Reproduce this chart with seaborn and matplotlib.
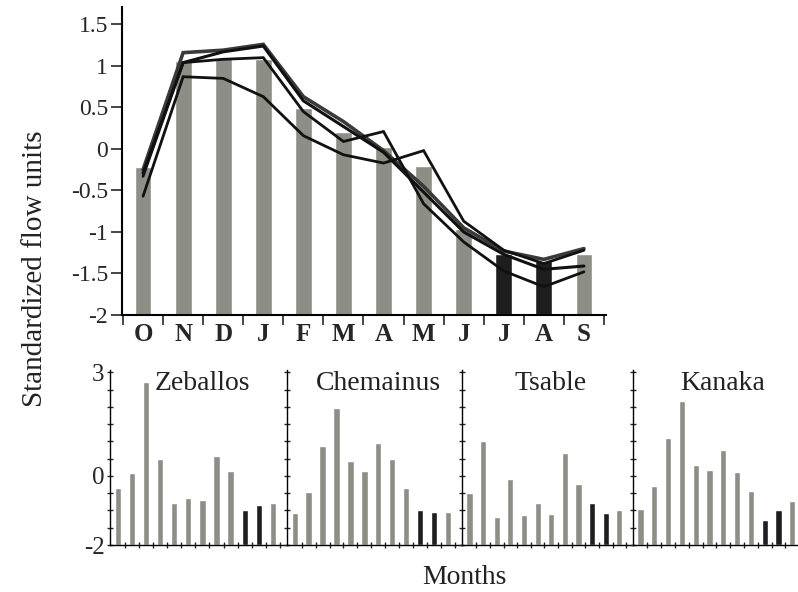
import numpy as np
import pandas as pd
import matplotlib
matplotlib.use("Agg")
import matplotlib.pyplot as plt
import seaborn as sns

sns.set_style("ticks")
plt.rcParams['font.family'] = ['Liberation Serif', 'DejaVu Serif']
plt.rcParams['axes.unicode_minus'] = False

# Water-year months (October to September)
months = ["Oct", "Nov", "Dec", "Jan", "Feb", "Mar", "Apr", "May", "Jun", "Jul", "Aug", "Sep"]
month_letters = ["O", "N", "D", "J", "F", "M", "A", "M", "J", "J", "A", "S"]
low_flow_months = ["Jul", "Aug"]

# Mean standardized hydrograph (bars)
mean_flow = [-0.22, 1.06, 1.09, 1.08, 0.49, 0.21, 0.02, -0.20, -0.96, -1.27, -1.35, -1.26]

# Individual station hydrographs (lines)
line_a = [-0.25, 1.16, 1.19, 1.26, 0.63, 0.33, -0.02, -0.45, -0.95, -1.23, -1.33, -1.20]
line_b = [-0.29, 1.04, 1.17, 1.24, 0.58, 0.27, -0.04, -0.52, -1.00, -1.27, -1.45, -1.41]
line_c = [-0.33, 1.04, 1.08, 1.10, 0.45, 0.09, 0.21, -0.66, -1.12, -1.47, -1.66, -1.48]
line_d = [-0.57, 0.87, 0.85, 0.63, 0.16, -0.07, -0.17, -0.02, -0.87, -1.22, -1.38, -1.22]

# Per-station standardized anomalies (small panels)
stations = ["Zeballos", "Chemainus", "Tsable", "Kanaka"]
zeballos = [-0.36, 0.08, 2.73, 0.48, -0.79, -0.65, -0.71, 0.58, 0.14, -0.99, -0.84, -0.77]
chemainus = [-1.08, -0.47, 0.87, 1.98, 0.43, 0.13, 0.95, 0.48, -0.36, -0.99, -1.04, -1.05]
tsable = [-0.48, 1.02, -1.18, -0.09, -1.13, -0.77, -1.09, 0.67, -0.24, -0.77, -1.08, -1.00]
kanaka = [-0.95, -0.29, 1.09, 2.16, 0.32, 0.17, 0.74, 0.11, -0.43, -1.28, -0.98, -0.73]

top_ticks = [1.5, 1, 0.5, 0, -0.5, -1, -1.5, -2]
top_tick_labels = ["1.5", "1", "0.5", "0", "-0.5", "-1", "-1.5", "-2"]
small_ticks = [3, 0, -2]
small_tick_labels = ["3", "0", "-2"]

# bars rise from the floor of each y axis
BASE = -2

GREY = "#8d8e86"
DARK = "#1e1e1e"
palette = {m: (DARK if m in low_flow_months else GREY) for m in months}

W, H = 798, 592
fig = plt.figure(figsize=(W / 100, H / 100), dpi=100)


def frac(x0, y_top, x1, y_bottom):
    return [x0 / W, 1 - y_bottom / H, (x1 - x0) / W, (y_bottom - y_top) / H]


def bar_frame(values):
    df = pd.DataFrame({"month": months, "flow": values})
    df["height"] = df["flow"] - BASE
    return df


# ---- main hydrograph ----
ax = fig.add_axes(frac(122, 7, 606, 315))
sns.barplot(data=bar_frame(mean_flow), x="month", y="height", hue="month",
            order=months, palette=palette, width=0.42, legend=False, ax=ax,
            saturation=1, bottom=BASE, zorder=1)

pos = np.arange(len(months))
series = [(line_a, "#3a3a3a", 2.6), (line_b, "#111111", 2.2),
          (line_c, "#111111", 2.0), (line_d, "#111111", 2.0)]
for vals, col, lw in series:
    sns.lineplot(x=pos, y=vals, color=col, lw=lw, ax=ax, zorder=3,
                 solid_joinstyle="miter")

ax.set_ylim(-2, 1.71)
ax.set_xlim(-0.525, 11.55)
ax.set_yticks(top_ticks)
ax.set_yticklabels(top_tick_labels, fontsize=17)
ax.set_xticks(pos)
ax.set_xticklabels(month_letters, fontsize=18, fontweight="bold")
ax.set_xticks(np.arange(-0.5, 12, 1), minor=True)
ax.tick_params(axis="x", which="major", length=0, pad=6)
ax.tick_params(axis="x", which="minor", length=7, width=1.2, direction="out")
ax.tick_params(axis="y", length=8, width=1.2, direction="out", pad=2)
ax.set_xlabel("")
ax.set_ylabel("")
for s in ["top", "right"]:
    ax.spines[s].set_visible(False)
for s in ["left", "bottom"]:
    ax.spines[s].set_linewidth(1.5)
    ax.spines[s].set_color("black")

# ---- station panels ----
lefts = [110, 287, 462, 633]
widths = [177, 175, 171, 173]
station_vals = [zeballos, chemainus, tsable, kanaka]
for i, (name, vals) in enumerate(zip(stations, station_vals)):
    sax = fig.add_axes(frac(lefts[i], 370, lefts[i] + widths[i], 545))
    sns.barplot(data=bar_frame(vals), x="month", y="height", hue="month",
                order=months, palette=palette, width=0.45, legend=False,
                ax=sax, saturation=1, bottom=BASE)
    sax.set_ylim(-2, 3.07)
    sax.set_xlim(-0.55, 12.0)
    sax.set_yticks(small_ticks)
    sax.set_yticks(np.arange(-2, 3.01, 0.5), minor=True)
    if i == 0:
        sax.set_yticklabels(small_tick_labels, fontsize=18)
    else:
        sax.set_yticklabels([])
    sax.tick_params(axis="y", which="both", length=4, width=1,
                    direction="inout", pad=2)
    sax.set_xticks(np.arange(0.5, 12.5, 1))
    sax.set_xticklabels([])
    sax.tick_params(axis="x", length=4, width=1, direction="inout")
    sax.set_xlabel("")
    sax.set_ylabel("")
    for s in ["top", "right"]:
        sax.spines[s].set_visible(False)
    for s in ["left", "bottom"]:
        sax.spines[s].set_linewidth(1.0)
        sax.spines[s].set_color("black")
    sax.text(0.52, 0.92, name, transform=sax.transAxes, ha="center",
             va="center", fontsize=20, color="#222222")
    sax.patch.set_alpha(0)

fig.text(35 / W, 1 - 269 / H, "Standardized flow units", rotation=90,
         ha="center", va="center", fontsize=21, color="#222222")
fig.text(464 / W, 1 - 577 / H, "Months", ha="center", va="center",
         fontsize=20, color="#222222")

fig.savefig("out.png", dpi=100)
